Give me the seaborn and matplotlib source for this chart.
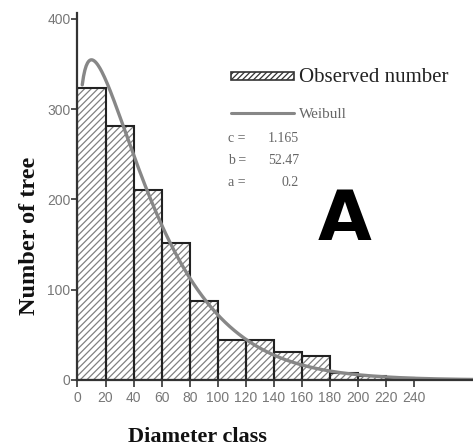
import numpy as np
import pandas as pd
import seaborn as sns
import matplotlib
matplotlib.use("Agg")
import matplotlib.pyplot as plt
from matplotlib.patches import Patch
from matplotlib.lines import Line2D

# Diameter classes (lower edges, cm) and observed tree counts
class_edges = [0, 20, 40, 60, 80, 100, 120, 140, 160, 180, 200, 220, 240]
observed = [324, 281, 210, 152, 87, 44, 44, 31, 27, 8, 4, 2]
x_ticks = [0, 20, 40, 60, 80, 100, 120, 140, 160, 180, 200, 220, 240]
y_ticks = [0, 100, 200, 300, 400]

# Fitted three-parameter Weibull
c_shape = 1.165
b_scale = 52.47
a_loc = 0.2

sns.set_theme(style="ticks")
plt.rcParams["font.family"] = ["Liberation Serif", "DejaVu Serif"]
plt.rcParams["hatch.linewidth"] = 0.9

fig = plt.figure(figsize=(4.73, 4.48), dpi=100)
ax = fig.add_axes([0.1638, 0.1518, 0.8362, 0.8199])

df = pd.DataFrame({
    "mid": [lo + 10 for lo in class_edges[:-1]],
    "count": observed,
})

# hatched fill layer
sns.histplot(data=df, x="mid", weights="count", bins=class_edges, ax=ax,
             stat="count", element="bars", fill=True, color="white", alpha=1)
fill_bars = list(ax.patches)
for p in fill_bars:
    p.set_facecolor("white")
    p.set_edgecolor("#808080")
    p.set_hatch("/////")
    p.set_linewidth(0)

# outline layer
sns.histplot(data=df, x="mid", weights="count", bins=class_edges, ax=ax,
             stat="count", element="bars", fill=True, color="white", alpha=1)
for p in ax.patches[len(fill_bars):]:
    p.set_facecolor("none")
    p.set_edgecolor("#222222")
    p.set_linewidth(1.5)

# Weibull expected frequency per 20-unit class
width = 20
n_total = sum(observed)
xs = np.linspace(a_loc + 3.2, 282, 600)
z = (xs - a_loc) / b_scale
pdf = (c_shape / b_scale) * z ** (c_shape - 1) * np.exp(-z ** c_shape)
curve = pd.DataFrame({"x": xs, "y": n_total * width * pdf})
sns.lineplot(data=curve, x="x", y="y", ax=ax, color="#878787",
             linewidth=2.4, solid_capstyle="round")

ax.set_xlim(0, 282)
ax.set_ylim(0, 407)
ax.set_xticks(x_ticks)
ax.set_yticks(y_ticks)
tick_font = ["Liberation Sans Narrow", "Liberation Sans", "DejaVu Sans"]
ax.set_xticklabels([str(t) for t in x_ticks], family=tick_font,
                   fontsize=10, color="#777777")
ax.set_yticklabels([str(t) for t in y_ticks], family=tick_font,
                   fontsize=10, color="#777777")
ax.tick_params(axis="x", direction="out", length=5, width=1.2,
               color="#333333", pad=3)
ax.tick_params(axis="y", direction="out", length=4, width=1.2,
               color="#333333", pad=1)
for s in ["top", "right"]:
    ax.spines[s].set_visible(False)
for s in ["left", "bottom"]:
    ax.spines[s].set_linewidth(1.6)
    ax.spines[s].set_color("#333333")

ax.set_xlabel("Diameter class", fontsize=16, fontweight="bold",
              color="#111111")
ax.set_ylabel("Number of tree", fontsize=17.5, fontweight="bold",
              color="#111111")
ax.xaxis.set_label_coords(0.303, -0.128)
ax.yaxis.set_label_coords(-0.095, 0.392)

handles = [
    Patch(facecolor="white", edgecolor="#333333", hatch="//////",
          linewidth=1.2, label="Observed number"),
    Line2D([0], [0], color="#878787", linewidth=2.2, label="Weibull"),
]
leg = ax.legend(handles=handles, loc="upper left",
                bbox_to_anchor=(0.3724, 0.867), frameon=False,
                prop={"size": 12}, handlelength=3.75, handleheight=0.4,
                handletextpad=0.3, labelspacing=1.22, borderaxespad=0)
texts = leg.get_texts()
texts[0].set_fontsize(15)
texts[0].set_color("#222222")
texts[1].set_fontsize(11)
texts[1].set_color("#666666")

# fitted parameter values
params = [("c =", f"{c_shape:.3f}"), ("b =", f"{b_scale:.2f}"),
          ("a =", f"{a_loc:.1f}")]
for i, (lab, val) in enumerate(params):
    y = 138 + i * 22
    fig.text(228 / 473, 1 - y / 448, lab, fontsize=10, color="#666666",
             va="center", ha="left")
    fig.text(299 / 473, 1 - y / 448, val, fontsize=10, color="#666666",
             va="center", ha="right")

fig.text(345 / 473, 1 - 221 / 448, "A", fontsize=50, fontweight="bold",
         family=["DejaVu Sans"], color="black", ha="center", va="center")

fig.savefig("out.png", dpi=100)
